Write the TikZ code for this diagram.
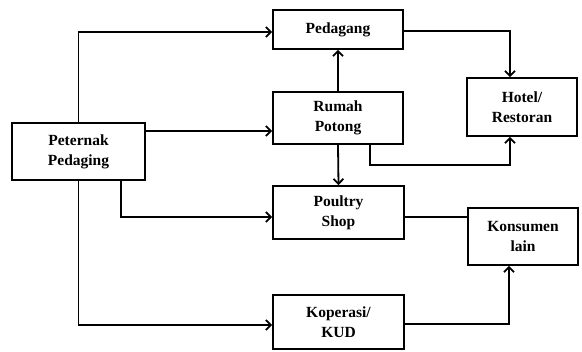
\documentclass[tikz,border=0pt]{standalone}
\usepackage{fontspec}
\setmainfont{Liberation Serif}
\usetikzlibrary{arrows.meta}
\begin{document}
\begin{tikzpicture}[x=1pt,y=-1pt,
  box/.style={draw,line width=1.8pt,rectangle,inner sep=0pt,align=center,
    font=\bfseries\fontsize{15.5}{20}\selectfont},
  link/.style={line width=1.8pt,-{Straight Barb[length=5pt,width=10pt,line width=1.8pt]}},
  plain/.style={line width=1.8pt}]
\useasboundingbox (0,0) rectangle (582,352);
% boxes
\node[box,minimum width=133pt,minimum height=57pt] (pet) at (78.5,151.5) {Peternak\\Pedaging};
\node[box,minimum width=130pt,minimum height=39pt] (ped) at (338,29.5) {Pedagang};
\node[box,minimum width=130pt,minimum height=52pt] (rp) at (338,118) {Rumah\\Potong};
\node[box,minimum width=131pt,minimum height=53pt] (ps) at (338.5,212.5) {Poultry\\Shop};
\node[box,minimum width=131pt,minimum height=54pt] (kop) at (338.5,322) {Koperasi/\\KUD};
\node[box,minimum width=110pt,minimum height=58pt] (hot) at (522,107) {Hotel/\\Restoran};
\node[box,minimum width=110pt,minimum height=57pt] (kon) at (523,236.5) {Konsumen\\lain};
% flows from the farmer
\draw[link] (pet.north) -- (pet.north |- 0,32) -- (ped.west |- 0,32);
\draw[link] (pet.east |- 0,131) -- (rp.west |- 0,131);
\draw[link] (pet.south -| 121,0) -- (121,217) -- (ps.west |- 0,217);
\draw[link] (pet.south) -- (pet.south |- 0,325) -- (kop.west |- 0,325);
% slaughterhouse
\draw[link] (rp.north) -- (ped.south);
\draw[link] (rp.south) -- (ps.north);
\draw[link] (rp.south -| 370,0) -- (370,165) -- (510,165) -- (hot.south -| 510,0);
% to hotels and consumers
\draw[link] (ped.east |- 0,31) -- (510,31) -- (hot.north -| 510,0);
\draw[plain] (ps.east |- 0,217) -- (kon.west |- 0,217);
\draw[link] (kop.east |- 0,324) -- (509,324) -- (kon.south -| 509,0);
\end{tikzpicture}
\end{document}
